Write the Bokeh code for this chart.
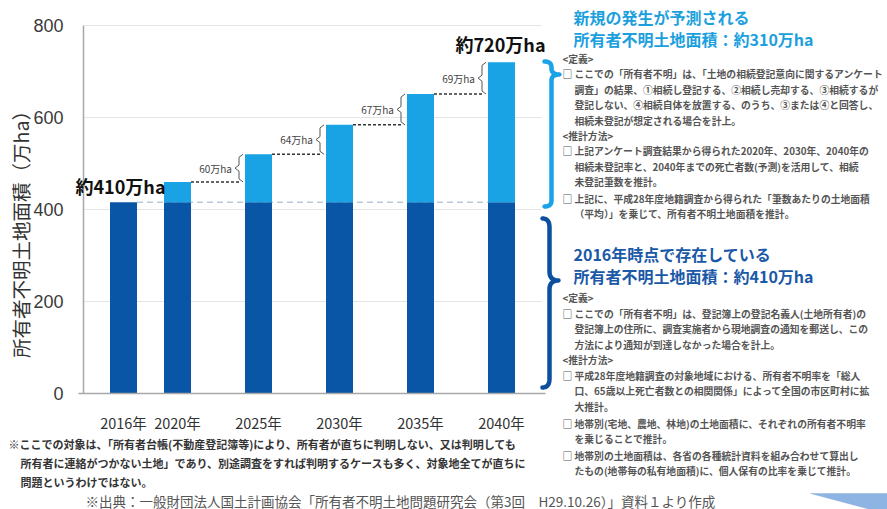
from bokeh.plotting import figure
from bokeh.models import Range1d, Label, FixedTicker, PolyAnnotation
from bokeh.embed import file_html
from bokeh.resources import INLINE

# ---------------- data ----------------
years = ["2016年", "2020年", "2025年", "2030年", "2035年", "2040年"]
existing = [416, 416, 416, 416, 416, 416]          # 2016年時点で存在 (万ha)
totals = [416, 460, 520, 584, 651, 720]            # 合計 (万ha)
increments = ["60万ha", "64万ha", "67万ha", "69万ha"]
y_ticks = [0, 200, 400, 600, 800]
label_start = "約410万ha"
label_end = "約720万ha"
y_title = "所有者不明土地面積（万ha）"

new_title = ["新規の発生が予測される", "所有者不明土地面積：約310万ha"]
new_def = ["ここでの「所有者不明」は、「土地の相続登記意向に関するアンケート",
           "調査」の結果、①相続し登記する、②相続し売却する、③相続するが",
           "登記しない、④相続自体を放置する、のうち、③または④と回答し、",
           "相続未登記が想定される場合を計上。"]
new_est1 = ["上記アンケート調査結果から得られた2020年、2030年、2040年の",
            "相続未登記率と、2040年までの死亡者数(予測)を活用して、相続",
            "未登記筆数を推計。"]
new_est2 = ["上記に、平成28年度地籍調査から得られた「筆数あたりの土地面積",
            "（平均）」を乗じて、所有者不明土地面積を推計。"]
old_title = ["2016年時点で存在している", "所有者不明土地面積：約410万ha"]
old_def = ["ここでの「所有者不明」は、登記簿上の登記名義人(土地所有者)の",
           "登記簿上の住所に、調査実施者から現地調査の通知を郵送し、この",
           "方法により通知が到達しなかった場合を計上。"]
old_est1 = ["平成28年度地籍調査の対象地域における、所有者不明率を「総人",
            "口、65歳以上死亡者数との相関関係」によって全国の市区町村に拡",
            "大推計。"]
old_est2 = ["地帯別(宅地、農地、林地)の土地面積に、それぞれの所有者不明率",
            "を乗じることで推計。"]
old_est3 = ["地帯別の土地面積は、各省の各種統計資料を組み合わせて算出し",
            "たもの(地帯毎の私有地面積)に、個人保有の比率を乗じて推計。"]
note = ["※ここでの対象は、「所有者台帳(不動産登記簿等)により、所有者が直ちに判明しない、又は判明しても",
        "所有者に連絡がつかない土地」であり、別途調査をすれば判明するケースも多く、対象地全てが直ちに",
        "問題というわけではない。"]
source = "※出典：一般財団法人国土計画協会「所有者不明土地問題研究会（第3回　H29.10.26）」資料１より作成"
hdr_def = "<定義>"
hdr_est = "<推計方法>"

# ---------------- layout ----------------
xpos = [0, 2, 5, 8, 11, 14]      # slot positions of the bars
X0, PXU, Y0, PYU = 123.0, 27.0, 393.0, 0.46
W, H = 887, 509


def dx(px):
    return (px - X0) / PXU


def dy(py):
    return (Y0 - py) / PYU


JP = "Noto Sans CJK JP"
DARK = "#0a56a6"
LIGHT = "#19a3e4"
TXT = "#555555"

p = figure(width=W, height=H, output_backend="svg", toolbar_location=None,
           x_range=Range1d(dx(0), dx(W)), y_range=Range1d(dy(H), dy(0)),
           min_border=0, min_border_left=0, min_border_right=0,
           min_border_top=0, min_border_bottom=0, title=None)
p.outline_line_color = None
p.background_fill_color = "white"
p.border_fill_color = "white"
p.xgrid.visible = False
p.ygrid.visible = False

# axes (placed inside the full-canvas frame)
p.yaxis.fixed_location = dx(83)
p.yaxis.ticker = FixedTicker(ticks=y_ticks)
p.yaxis.bounds = (y_ticks[0], y_ticks[-1])
p.yaxis.major_tick_line_color = None
p.yaxis.minor_tick_line_color = None
p.yaxis.axis_line_color = "#a8a8a8"
p.yaxis.axis_line_width = 1.5
p.yaxis.major_label_standoff = 14
p.yaxis.major_label_text_font = "Liberation Sans"
p.yaxis.major_label_text_font_size = "18px"
p.yaxis.major_label_text_color = "#3a3a3a"

p.xaxis.fixed_location = 0
p.xaxis.ticker = FixedTicker(ticks=xpos)
p.xaxis.major_label_overrides = {xp: yr for xp, yr in zip(xpos, years)}
p.xaxis.bounds = (dx(78), dx(545))
p.xaxis.major_tick_line_color = None
p.xaxis.minor_tick_line_color = None
p.xaxis.axis_line_color = "#a8a8a8"
p.xaxis.axis_line_width = 1.5
p.xaxis.major_label_standoff = 12
p.xaxis.major_label_text_font = JP
p.xaxis.major_label_text_font_size = "14.5px"
p.xaxis.major_label_text_color = "#333333"

# grid lines
gy = y_ticks[1:]
p.segment(x0=[dx(84)] * len(gy), x1=[dx(541)] * len(gy), y0=gy, y1=gy,
          line_color="#e4e4e4", line_width=1)

# dashed reference line at existing level
p.line([xpos[0] + 0.5, xpos[-1] - 0.5], [existing[0], existing[0]],
       line_color="#b9c9dc", line_width=1.5, line_dash="6 4")

# bars
p.vbar(x=xpos, width=1, bottom=0, top=existing, fill_color=DARK, line_color=None)
p.vbar(x=xpos, width=1, bottom=existing, top=totals, fill_color=LIGHT, line_color=None)

# increments: dashed leaders + brackets + labels
for i, inc in enumerate(increments, start=1):
    lo, hi = totals[i], totals[i + 1]
    bx = xpos[i + 1] - 0.5 - 6 / PXU
    p.line([xpos[i] + 0.5, bx], [lo, lo], line_color="#333333", line_width=1.5,
           line_dash="3 2")
    mid = (lo + hi) / 2
    h = 4 / PXU
    v = 3 / PYU
    p.line([bx + h, bx, bx, bx - h, bx, bx, bx + h],
           [hi, hi - v, mid + v, mid, mid - v, lo + v, lo],
           line_color="#555555", line_width=1)
    p.add_layout(Label(x=bx - 7 / PXU, y=mid, text=inc, text_font=JP,
                       text_font_size="10px", text_color="#444444",
                       text_align="right", text_baseline="middle"))


def qbez(p0, c, p1, n=10):
    pts = []
    for k in range(n + 1):
        t = k / n
        x = (1 - t) ** 2 * p0[0] + 2 * (1 - t) * t * c[0] + t ** 2 * p1[0]
        y = (1 - t) ** 2 * p0[1] + 2 * (1 - t) * t * c[1] + t ** 2 * p1[1]
        pts.append((x, y))
    return pts


def brace(x, ytop, ybot, ytip, hook, tip, r, color, lw):
    pts = []
    pts += qbez((x - hook, ytop), (x, ytop), (x, ytop + r))
    pts += qbez((x, ytip - r), (x, ytip), (x + tip, ytip))
    pts += qbez((x + tip, ytip), (x, ytip), (x, ytip + r))
    pts += qbez((x, ybot - r), (x, ybot), (x - hook, ybot))
    p.line([dx(a) for a, b in pts], [dy(b) for a, b in pts], line_color=color,
           line_width=lw, line_cap="round", line_join="round")


brace(551, 61, 206, 74, 7, 8, 6, "#1aa3e8", 4.5)
brace(549, 218, 387, 280, 7, 9, 9, "#0d4f9f", 4.5)


def lab(text, px, py, size, color, bold=False, align="left", font=JP, angle=0.0):
    p.add_layout(Label(x=dx(px), y=dy(py), text=text, text_font=font,
                       text_font_size=f"{size}px", text_color=color,
                       text_font_style="bold" if bold else "normal",
                       text_align=align, text_baseline="middle", angle=angle))


# y axis title
lab(y_title, 20, 229, 19.5, "#333333", align="center", angle=1.5708)

# bar annotations
lab(label_start, 75, 185, 18, "#111111", bold=True)
lab(label_end, 455, 43, 18, "#111111", bold=True)

# right panel
BODY = 9.8


def block(lines, y0, step=15.5):
    y = y0
    for j, t in enumerate(lines):
        if j == 0:
            lab("□", 562, y, BODY, TXT, bold=True)
        lab(t, 574, y, BODY, TXT, bold=True)
        y += step


lab(new_title[0], 573, 16, 16, "#1ba0de", bold=True)
lab(new_title[1], 573, 38, 16, "#1ba0de", bold=True)
lab(hdr_def, 562, 58, BODY, TXT, bold=True)
block(new_def, 73.5)
lab(hdr_est, 562, 135, BODY, TXT, bold=True)
block(new_est1, 150.5)
block(new_est2, 198)

lab(old_title[0], 573, 253, 16, "#1a58a8", bold=True)
lab(old_title[1], 573, 275, 16, "#1a58a8", bold=True)
lab(hdr_def, 562, 297, BODY, TXT, bold=True)
block(old_def, 313)
lab(hdr_est, 562, 359, BODY, TXT, bold=True)
block(old_est1, 375)
block(old_est2, 423)
block(old_est3, 455)

# notes under the chart
lab(note[0], 8, 443, 11, "#333333", bold=True)
lab(note[1], 20, 462, 11, "#333333", bold=True)
lab(note[2], 20, 481, 11, "#333333", bold=True)
lab(source, 85, 500, 13.5, "#555555")

# decorative corner shape
p.add_layout(PolyAnnotation(xs=[dx(810), dx(887), dx(887), dx(870)],
                            ys=[dy(493), dy(493), dy(509), dy(509)],
                            fill_color="#8db4e2", fill_alpha=1.0,
                            line_color="#6f9bd0", line_width=1))

open("out.html", "w").write(file_html(p, INLINE))
